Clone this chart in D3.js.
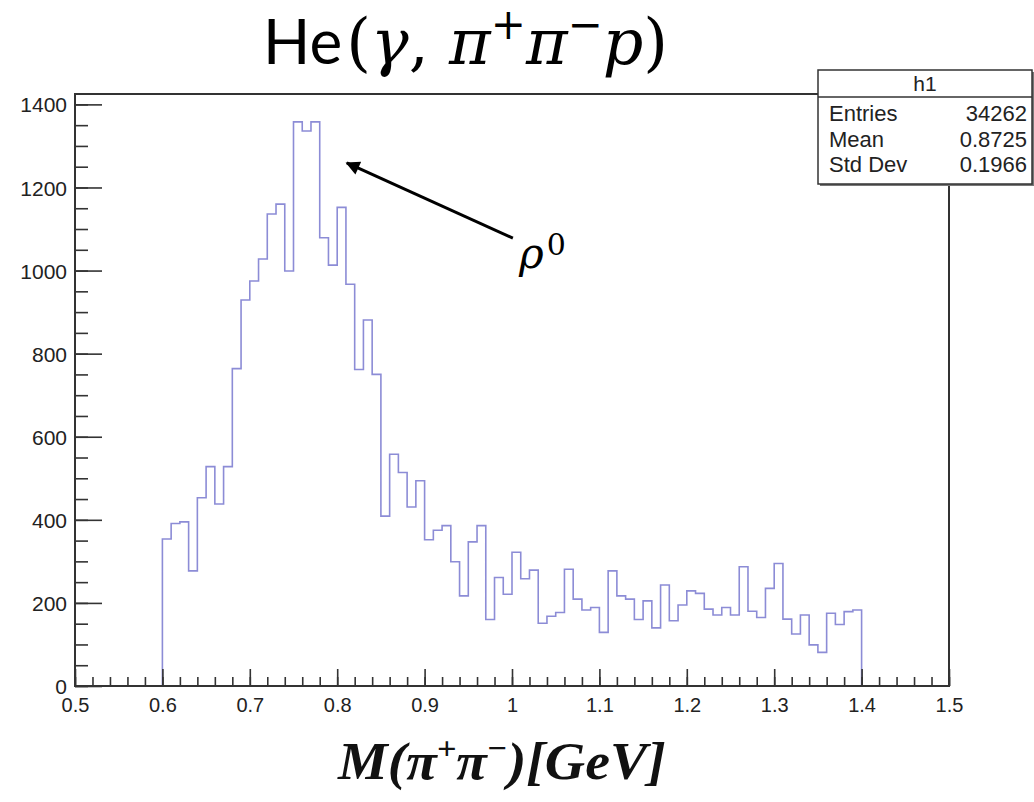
<!DOCTYPE html>
<html><head><meta charset="utf-8">
<script src="https://cdn.jsdelivr.net/npm/d3@7"></script>
<style>body{margin:0;background:#fff;} svg{display:block;}</style>
</head><body><svg id="c" width="1034" height="802"></svg>
<script>
// ---------- data ----------
const binStart = 0.6;
const binWidth = 0.01;
const counts = [354,391,395,277,453,528,438,528,
  764,929,975,1028,1136,1160,999,1358,
  1336,1358,1079,1013,1152,967,762,
  881,750,409,558,514,431,494,352,
  375,386,299,217,347,386,160,261,221,322,
  258,279,151,168,177,281,209,183,189,129,
  277,217,209,160,205,140,243,157,195,229,
  223,185,171,189,171,287,180,165,235,295,
  161,125,171,99,81,175,148,179,183];
const xMajorTicks = [0.5,0.6,0.7,0.8,0.9,1.0,1.1,1.2,1.3,1.4,1.5];
const xTickLabels = ["0.5","0.6","0.7","0.8","0.9","1","1.1","1.2","1.3","1.4","1.5"];
const yMajorTicks = [0,200,400,600,800,1000,1200,1400];
const yTickLabels = ["0","200","400","600","800","1000","1200","1400"];
const xDomain = [0.5,1.5];
const yDomain = [0,1425];
const statsTitle = "h1";
const statsLabels = ["Entries","Mean","Std Dev"];
const statsValues = ["34262","0.8725","0.1966"];
const arrowTip = [0.811,1259];
const arrowTail = [1.001,1078];
const peakLabelPos = [1.008,1006];

// ---------- layout ----------
const L=75, R=949, T=94, B=686;
const svg = d3.select("#c");
const x = d3.scaleLinear().domain(xDomain).range([L,R]);
const y = d3.scaleLinear().domain(yDomain).range([B,T]);
const sans = "'Liberation Sans', Arial, sans-serif";
const serif = "'Liberation Serif','DejaVu Serif',serif";
const mathSerif = "'DejaVu Serif','Liberation Serif',serif";

function fitWidth(el, x0, width){
  const w = el.node().getBBox().width;
  const s = width / w;
  el.attr("transform", `translate(${x0},0) scale(${s},1) translate(${-x0},0)`);
}

// histogram outline
const pts = [[binStart,0]];
counts.forEach((c,i)=>{
  const x0 = binStart+i*binWidth, x1 = binStart+(i+1)*binWidth;
  pts.push([x0,c]); pts.push([x1,c]);
});
pts.push([binStart+counts.length*binWidth,0]);
svg.append("path")
  .attr("d", d3.line().x(d=>x(d[0])).y(d=>y(d[1]))(pts))
  .attr("fill","none").attr("stroke","#8c8cd6").attr("stroke-width",1.6);

// axes
const axColor="#333";
const gx = svg.append("g").attr("transform",`translate(0,${B})`);
gx.call(d3.axisBottom(x).tickValues(d3.range(0.5,1.5001,0.02)).tickSize(-9).tickFormat(""));
const gx2 = svg.append("g").attr("transform",`translate(0,${B})`);
gx2.call(d3.axisBottom(x).tickValues(xMajorTicks).tickSize(-17).tickPadding(12)
  .tickFormat((d,i)=>xTickLabels[i]));
const gy = svg.append("g").attr("transform",`translate(${L},0)`);
gy.call(d3.axisLeft(y).tickValues(d3.range(0,1425,50)).tickSize(-13).tickFormat(""));
const gy2 = svg.append("g").attr("transform",`translate(${L},0)`);
gy2.call(d3.axisLeft(y).tickValues(yMajorTicks).tickSize(-27).tickPadding(8)
  .tickFormat((d,i)=>yTickLabels[i]));
svg.selectAll(".domain").remove();
svg.selectAll(".tick line").attr("stroke",axColor).attr("stroke-width",1.6);
svg.selectAll(".tick text").attr("font-family",sans).attr("fill","#222");
gx2.selectAll(".tick text").attr("font-size",20);
gy2.selectAll(".tick text").attr("font-size",21).attr("dy","0.36em");

// frame
svg.append("rect").attr("x",L).attr("y",T).attr("width",R-L).attr("height",B-T)
  .attr("fill","none").attr("stroke",axColor).attr("stroke-width",2);

// stats box
const sb = {x:818,y:70,w:214,h:114};
svg.append("rect").attr("x",sb.x+2).attr("y",sb.y+2).attr("width",sb.w).attr("height",sb.h).attr("fill","#777");
svg.append("rect").attr("x",sb.x).attr("y",sb.y).attr("width",sb.w).attr("height",sb.h)
  .attr("fill","#fff").attr("stroke","#333").attr("stroke-width",1.5);
svg.append("line").attr("x1",sb.x).attr("x2",sb.x+sb.w).attr("y1",97).attr("y2",97)
  .attr("stroke","#333").attr("stroke-width",1.5);
svg.append("text").attr("x",sb.x+sb.w/2).attr("y",91).attr("text-anchor","middle")
  .attr("font-family",sans).attr("font-size",21).attr("fill","#222").text(statsTitle);
statsLabels.forEach((lab,i)=>{
  const by = 121 + i*25.5;
  svg.append("text").attr("x",829).attr("y",by).attr("font-family",sans)
    .attr("font-size",22).attr("fill","#222").text(lab);
  svg.append("text").attr("x",1027).attr("y",by).attr("text-anchor","end").attr("font-family",sans)
    .attr("font-size",22).attr("fill","#222").text(statsValues[i]);
});

// arrow annotation
svg.append("defs").append("marker").attr("id","ah").attr("markerUnits","userSpaceOnUse")
  .attr("viewBox","0 0 10 10").attr("refX",9).attr("refY",5).attr("markerWidth",16).attr("markerHeight",14)
  .attr("orient","auto").append("path").attr("d","M0,0 L10,5 L0,10 z").attr("fill","#000");
svg.append("line").attr("x1",x(arrowTail[0])).attr("y1",y(arrowTail[1]))
  .attr("x2",x(arrowTip[0])).attr("y2",y(arrowTip[1]))
  .attr("stroke","#000").attr("stroke-width",3).attr("marker-end","url(#ah)");
const rho = svg.append("text").attr("x",x(peakLabelPos[0])).attr("y",y(peakLabelPos[1]))
  .attr("font-family",mathSerif).attr("font-size",42);
rho.append("tspan").attr("font-style","italic").text("ρ");
rho.append("tspan").attr("font-size",30).attr("dy",-13).attr("dx",3).text("0");

// title: "He" + math part
const he = svg.append("text").attr("x",263).attr("y",64).attr("font-size",62)
  .attr("font-family","Lato, 'Open Sans', sans-serif").attr("fill","#000").text("He");
const heW = he.node().getComputedTextLength();
const mx = 263 + heW + 4;
const t = svg.append("text").attr("x",mx).attr("y",64).attr("font-size",60)
  .attr("font-family",mathSerif).attr("fill","#000");
t.append("tspan").text("(");
t.append("tspan").attr("font-style","italic").text("γ");
t.append("tspan").text(", ");
t.append("tspan").attr("font-style","italic").text("π");
t.append("tspan").attr("font-size",42).attr("dy",-25).text("+");
t.append("tspan").attr("font-style","italic").attr("dy",25).text("π");
t.append("tspan").attr("font-size",42).attr("dy",-25).text("−");
t.append("tspan").attr("font-style","italic").attr("dy",25).text("p");
t.append("tspan").text(")");
const tw = t.node().getComputedTextLength();
t.attr("font-size", 60 * (672 - mx) / tw);

// x axis title
const xt = svg.append("text").attr("x",338).attr("y",779).attr("font-family",serif)
  .attr("font-size",52).attr("font-weight","bold").attr("font-style","italic").attr("fill","#111");
xt.append("tspan").text("M(π");
xt.append("tspan").attr("font-size",32).attr("dy",-20).text("+");
xt.append("tspan").attr("dy",20).text("π");
xt.append("tspan").attr("font-size",32).attr("dy",-20).text("−");
xt.append("tspan").attr("dy",20).text(")[GeV]");
fitWidth(xt, 338, 329);
</script></body></html>
